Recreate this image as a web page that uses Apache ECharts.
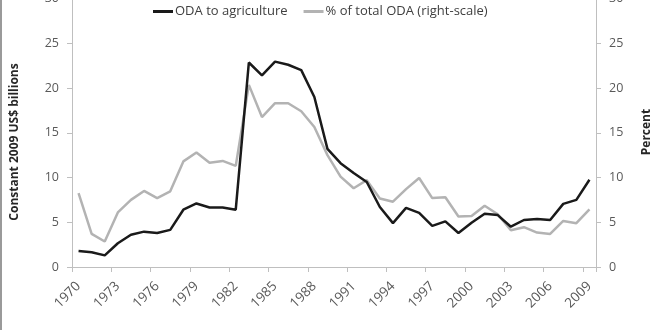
<!DOCTYPE html>
<html>
<head>
<meta charset="utf-8">
<script src="https://cdn.jsdelivr.net/npm/echarts@6/dist/echarts.min.js"></script>
<style>html,body{margin:0;padding:0;background:#fff;}#c{width:660px;height:330px;}</style>
</head>
<body>
<div id="c"></div>
<script>
var years = ['1970','1971','1972','1973','1974','1975','1976','1977','1978','1979',
  '1980','1981','1982','1983','1984','1985','1986','1987','1988','1989',
  '1990','1991','1992','1993','1994','1995','1996','1997','1998','1999',
  '2000','2001','2002','2003','2004','2005','2006','2007','2008','2009'];
var odaAgriculture = [1.8,1.65,1.3,2.65,3.6,3.95,3.8,4.15,6.4,7.1,
  6.65,6.65,6.4,22.85,21.4,22.95,22.6,22.0,19.0,13.2,
  11.6,10.5,9.5,6.7,4.9,6.6,6.05,4.6,5.1,3.8,
  4.95,5.95,5.8,4.5,5.25,5.35,5.25,7.05,7.5,9.75];
var pctTotalOda = [8.25,3.7,2.85,6.1,7.5,8.5,7.7,8.45,11.8,12.8,
  11.65,11.85,11.3,20.35,16.75,18.3,18.3,17.4,15.65,12.5,
  10.1,8.8,9.7,7.65,7.3,8.7,9.95,7.7,7.8,5.65,
  5.7,6.85,5.9,4.1,4.45,3.85,3.7,5.15,4.9,6.45];
var seriesNames = ['ODA to agriculture', '% of total ODA (right-scale)'];
var leftTitle = 'Constant 2009 US$ billions';
var rightTitle = 'Percent';

var FONT = 'Open Sans';
var axisGray = '#bfbfbf';
var labelGray = '#595959';

var chart = echarts.init(document.getElementById('c'), null, {renderer: 'canvas'});
function yAxisCfg(pos) {
  return {
    type: 'value', position: pos, min: 0, max: 30, interval: 5,
    axisLine: {show: true, lineStyle: {color: axisGray, width: 1}},
    axisTick: {show: true, length: 5, lineStyle: {color: axisGray}},
    axisLabel: {color: labelGray, fontFamily: FONT, fontSize: 12.5, margin: 13},
    splitLine: {show: false}
  };
}
chart.setOption({
  animation: false,
  backgroundColor: '#fff',
  grid: {left: 72, right: 64, top: -1.5, bottom: 63, containLabel: false, outerBoundsMode: 'none'},
  legend: {
    data: seriesNames, left: 148, top: 0, itemWidth: 20, itemHeight: 3, itemGap: 16,
    icon: 'rect',
    textStyle: {color: '#404040', fontFamily: FONT, fontSize: 13, padding: [0,0,0,-3]}
  },
  xAxis: {
    type: 'category', data: years, boundaryGap: true,
    axisLine: {show: true, lineStyle: {color: axisGray, width: 1}},
    axisTick: {show: true, interval: 2, length: 5, alignWithLabel: false, lineStyle: {color: axisGray}},
    axisLabel: {interval: 2, rotate: 45, color: labelGray, fontFamily: FONT, fontSize: 13.5, margin: 17}
  },
  yAxis: [yAxisCfg('left'), yAxisCfg('right')],
  series: [
    {name: seriesNames[1], type: 'line', yAxisIndex: 1, data: pctTotalOda, symbol: 'none',
      itemStyle: {color: '#b3b3b3'}, lineStyle: {color: '#b3b3b3', width: 2.5}, z: 2},
    {name: seriesNames[0], type: 'line', yAxisIndex: 0, data: odaAgriculture, symbol: 'none',
      itemStyle: {color: '#1a1a1a'}, lineStyle: {color: '#1a1a1a', width: 2.5}, z: 3}
  ],
  graphic: [
    {type: 'line', shape: {x1: 1, y1: 0, x2: 1, y2: 330}, style: {stroke: '#9a9a9a', lineWidth: 2}},
    {type: 'text', x: 15, y: 142, rotation: Math.PI / 2,
      style: {text: leftTitle, fill: '#262626', font: 'bold 12px "Open Sans"', align: 'center', verticalAlign: 'middle'}},
    {type: 'text', x: 647, y: 132, rotation: Math.PI / 2,
      style: {text: rightTitle, fill: '#262626', font: 'bold 12px "Open Sans"', align: 'center', verticalAlign: 'middle'}}
  ]
});
</script>
</body>
</html>
